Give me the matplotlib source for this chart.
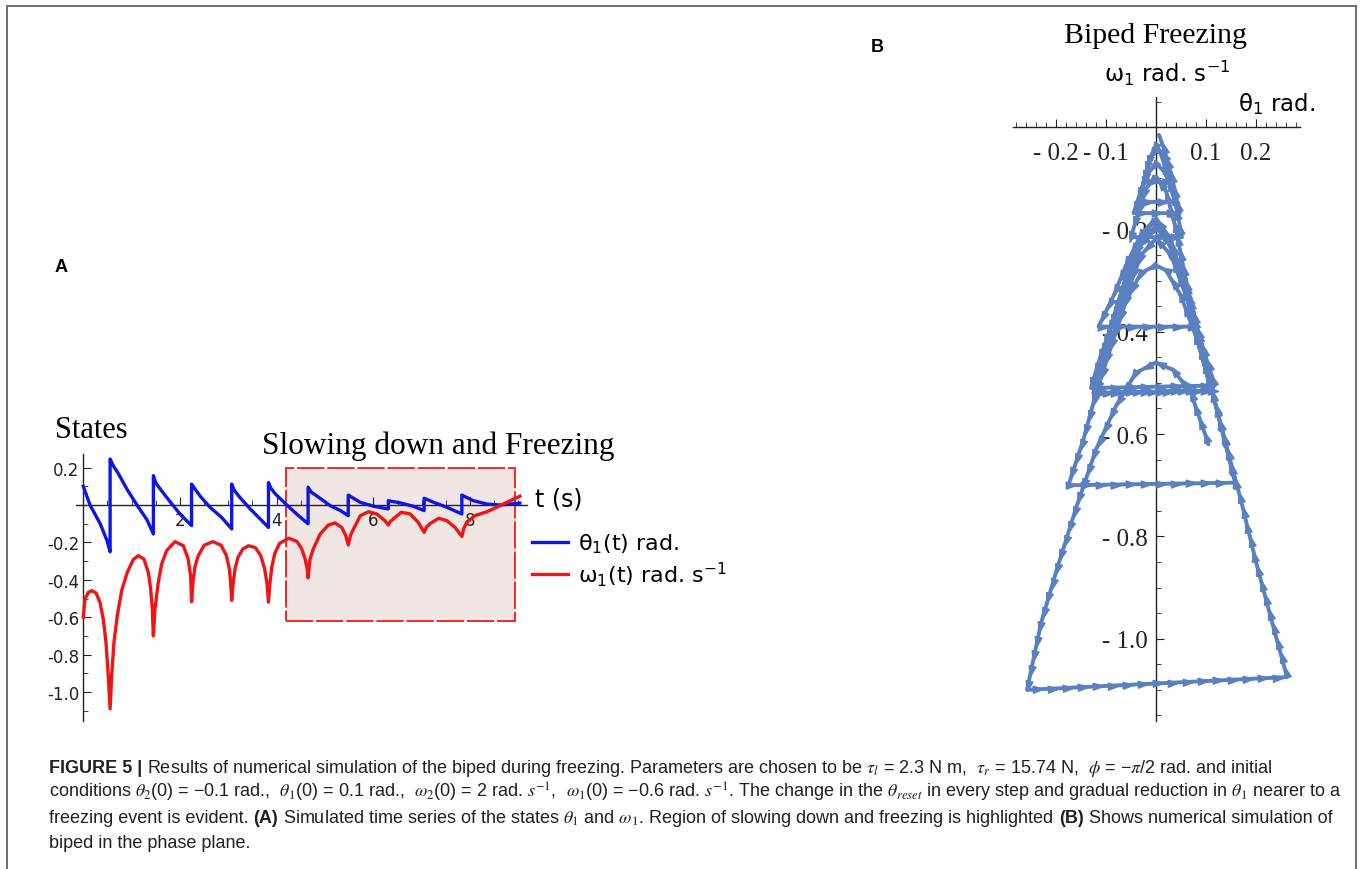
import numpy as np
import matplotlib.pyplot as plt
from matplotlib.patches import Rectangle
from matplotlib.lines import Line2D
from matplotlib.markers import MarkerStyle
from matplotlib.path import Path
from matplotlib.transforms import Affine2D
from matplotlib.font_manager import FontProperties

# ---- panel A: time series ----
theta_t = [0.0, 0.07, 0.14, 0.35, 0.49, 0.555,
           0.555, 0.62, 0.73, 0.90, 1.11, 1.32, 1.45,
           1.45, 1.50, 1.59, 1.80, 2.00, 2.24,
           2.24, 2.31, 2.41, 2.62, 2.86, 3.07,
           3.07, 3.12, 3.24, 3.45, 3.66, 3.83,
           3.83, 3.88, 3.97, 4.21, 4.45, 4.65,
           4.65, 4.71, 4.87, 5.11, 5.32, 5.48,
           5.48, 5.73, 6.01, 6.31,
           6.31, 6.56, 6.83, 7.05,
           7.05, 7.25, 7.52, 7.83,
           7.83, 8.07, 8.35, 8.62, 9.03]
theta_v = [0.10, 0.05, 0.0, -0.10, -0.19, -0.25,
           0.246, 0.21, 0.166, 0.086, 0.0, -0.08, -0.155,
           0.157, 0.118, 0.086, 0.016, -0.048, -0.11,
           0.112, 0.086, 0.05, -0.012, -0.066, -0.128,
           0.112, 0.08, 0.04, -0.02, -0.075, -0.12,
           0.12, 0.09, 0.06, 0.0, -0.057, -0.10,
           0.095, 0.07, 0.041, -0.004, -0.03, -0.057,
           0.053, 0.014, -0.007, -0.021,
           0.023, 0.011, -0.007, -0.03,
           0.036, 0.014, -0.012, -0.048,
           0.053, 0.023, 0.005, 0.0, 0.01]

omega_t = [0.0, 0.035, 0.104, 0.173, 0.263, 0.345, 0.414, 0.47, 0.517, 0.555,
           0.587, 0.635, 0.703, 0.794, 0.91, 1.034, 1.138, 1.255, 1.345, 1.394, 1.428, 1.45,
           1.483, 1.552, 1.621, 1.724, 1.897, 2.07, 2.17, 2.22, 2.24,
           2.27, 2.31, 2.38, 2.50, 2.68, 2.85, 2.96, 3.02, 3.05, 3.07,
           3.10, 3.14, 3.20, 3.30, 3.42, 3.56, 3.67, 3.75, 3.80, 3.83,
           3.86, 3.90, 3.96, 4.06, 4.25, 4.42, 4.52, 4.59, 4.63, 4.65,
           4.69, 4.757, 4.90, 5.07, 5.21, 5.345, 5.43, 5.48,
           5.53, 5.59, 5.73, 5.90, 6.07, 6.24, 6.31,
           6.35, 6.41, 6.58, 6.76, 6.93, 7.05,
           7.10, 7.17, 7.35, 7.52, 7.69, 7.83,
           7.87, 7.93, 8.10, 8.35, 8.55, 8.79, 9.03]
omega_v = [-0.60, -0.503, -0.467, -0.458, -0.47, -0.52, -0.61, -0.734, -0.913, -1.09,
           -0.913, -0.734, -0.592, -0.458, -0.36, -0.292, -0.271, -0.289, -0.36, -0.449, -0.556, -0.70,
           -0.556, -0.413, -0.316, -0.244, -0.196, -0.218, -0.289, -0.378, -0.517,
           -0.41, -0.33, -0.27, -0.215, -0.196, -0.215, -0.27, -0.34, -0.42, -0.51,
           -0.42, -0.34, -0.28, -0.235, -0.218, -0.228, -0.27, -0.34, -0.42, -0.52,
           -0.42, -0.33, -0.26, -0.205, -0.178, -0.195, -0.235, -0.29, -0.34, -0.39,
           -0.289, -0.235, -0.155, -0.107, -0.096, -0.12, -0.164, -0.214,
           -0.16, -0.128, -0.057, -0.036, -0.048, -0.084, -0.107,
           -0.088, -0.075, -0.039, -0.048, -0.093, -0.146,
           -0.118, -0.10, -0.071, -0.084, -0.12, -0.168,
           -0.125, -0.093, -0.057, -0.036, -0.012, 0.018, 0.047]

region_t = [4.19, 8.93]
region_w = [-0.62, 0.20]

# ---- panel B: phase plane trajectory (theta1, omega1) in order ----
phase_theta = [0.105, 0.07, 0.035, 0.0, -0.04, -0.08, -0.12, -0.16, -0.20, -0.23, -0.258,
               0.262, 0.23, 0.20, 0.17, 0.14, 0.11, 0.08, 0.05, 0.02, 0.0, -0.03, -0.06, -0.09, -0.12, -0.145, -0.175,
               0.158, 0.13, 0.10, 0.07, 0.04, 0.015, 0.0, -0.02, -0.05, -0.08, -0.105, -0.125,
               0.115, 0.09, 0.06, 0.03, 0.0, -0.03, -0.06, -0.09, -0.115, -0.13,
               0.118, 0.09, 0.06, 0.03, 0.0, -0.03, -0.06, -0.09, -0.125,
               0.11, 0.085, 0.06, 0.03, 0.0, -0.03, -0.06, -0.085, -0.115,
               0.078, 0.06, 0.04, 0.02, 0.0, -0.02, -0.035, -0.05,
               0.052, 0.035, 0.018, 0.0, -0.012, -0.025,
               0.024, 0.012, 0.0, -0.015, -0.035,
               0.038, 0.02, 0.0, -0.02, -0.045,
               0.048, 0.03, 0.015, 0.006]
phase_omega = [-0.62, -0.52, -0.475, -0.46, -0.48, -0.545, -0.63, -0.745, -0.87, -0.97, -1.10,
               -1.075, -0.96, -0.85, -0.73, -0.62, -0.51, -0.41, -0.33, -0.28, -0.27, -0.285, -0.34, -0.43, -0.52, -0.61, -0.70,
               -0.695, -0.585, -0.465, -0.36, -0.26, -0.205, -0.196, -0.205, -0.26, -0.355, -0.44, -0.52,
               -0.515, -0.42, -0.31, -0.23, -0.196, -0.23, -0.31, -0.39, -0.46, -0.51,
               -0.505, -0.42, -0.33, -0.25, -0.218, -0.25, -0.33, -0.42, -0.52,
               -0.515, -0.42, -0.32, -0.22, -0.178, -0.21, -0.27, -0.33, -0.39,
               -0.39, -0.30, -0.20, -0.125, -0.096, -0.12, -0.165, -0.215,
               -0.215, -0.13, -0.06, -0.036, -0.06, -0.107,
               -0.107, -0.055, -0.039, -0.07, -0.146,
               -0.146, -0.09, -0.071, -0.095, -0.168,
               -0.168, -0.09, -0.04, -0.015]

A_yticks = [-1.0, -0.8, -0.6, -0.4, -0.2, 0.2]
A_xticks = [2, 4, 6, 8]
B_xticks = [-0.2, -0.1, 0.1, 0.2]
B_yticks = [-1.0, -0.8, -0.6, -0.4, -0.2]

caption_lines = [
    [("FIGURE 5 |", "bold"),
     (r"Results of numerical simulation of the biped during freezing. Parameters are chosen to be "
      r"$\tau_l$ = 2.3 N m,  $\tau_r$ = 15.74 N,  $\phi$ = −$\pi$/2 rad. and initial", "normal")],
    [(r"conditions $\theta_2$(0) = −0.1 rad.,  $\theta_1$(0) = 0.1 rad.,  $\omega_2$(0) = 2 rad. $s^{-1}$,  "
      r"$\omega_1$(0) = −0.6 rad. $s^{-1}$. The change in the $\theta_{reset}$ in every step and gradual "
      r"reduction in $\theta_1$ nearer to a", "normal")],
    [("freezing event is evident.", "normal"), ("(A)", "bold"),
     (r"Simulated time series of the states $\theta_1$ and $\omega_1$. Region of slowing down and "
      r"freezing is highlighted", "normal"), ("(B)", "bold"),
     ("Shows numerical simulation of", "normal")],
    [("biped in the phase plane.", "normal")],
]

W, H = 1363, 870
fig = plt.figure(figsize=(W / 100, H / 100), dpi=100)


def fx(x):
    return x / W


def fy(y):
    return 1 - y / H


SERIF = 'Liberation Serif'
SANS = 'DejaVu Sans'
BLUE = '#0c16e8'
RED = '#f01414'
PBLUE = '#5a80bf'

# ---------------- panel A ----------------
axA = fig.add_axes([fx(73.6), fy(739.75), fx(557.1) - fx(73.6), (739.75 - 440.55) / H])
axA.set_xlim(-0.2, 9.8)
axA.set_ylim(-1.25, 0.35)
axA.patch.set_visible(False)
for s in ['top', 'right']:
    axA.spines[s].set_visible(False)
axA.spines['left'].set_position(('data', 0))
axA.spines['bottom'].set_position(('data', 0))
axA.spines['left'].set_bounds(-1.155, 0.273)
axA.spines['bottom'].set_bounds(-0.16, 9.18)
for s in ['left', 'bottom']:
    axA.spines[s].set_linewidth(1.0)
    axA.spines[s].set_color('#222222')

axA.set_xticks(A_xticks)
axA.set_xticklabels([str(v) for v in A_xticks])
axA.set_xticks(np.arange(0.5, 9.01, 0.5), minor=True)
axA.set_yticks(A_yticks)
axA.set_yticklabels(['%.1f' % v for v in A_yticks])
axA.set_yticks(np.arange(-1.1, 0.25, 0.1), minor=True)
axA.tick_params(axis='both', which='major', direction='in', length=6, width=0.8,
                labelsize=12, colors='#222222')
axA.tick_params(axis='both', which='minor', direction='in', length=3.5, width=0.7, colors='#444444')
axA.tick_params(axis='x', which='major', pad=4)
axA.tick_params(axis='y', which='major', pad=3)
for lab in axA.get_xticklabels() + axA.get_yticklabels():
    lab.set_family(SANS)

axA.add_patch(Rectangle((region_t[0], region_w[0]), region_t[1] - region_t[0],
                        region_w[1] - region_w[0], facecolor='#efe6e3', edgecolor='#ee2a2a',
                        linewidth=1.4, linestyle=(0, (14, 1.5)), zorder=0.5))
l1, = axA.plot(theta_t, theta_v, color=BLUE, lw=2.4, solid_joinstyle='round', zorder=3)
l2, = axA.plot(omega_t, omega_v, color=RED, lw=2.4, solid_joinstyle='round', zorder=3)

fig.text(fx(535), fy(500), 't (s)', family=SANS, fontsize=17, va='center', ha='left')
fig.text(fx(55), fy(431), 'States', family=SERIF, fontsize=22, va='center', ha='left')
fig.text(fx(262), fy(446), 'Slowing down and Freezing', family=SERIF, fontsize=22.5,
         va='center', ha='left')

leg_font = FontProperties(family=SANS, size=16, math_fontfamily='dejavusans')
fig.legend([l1, l2], [r'$\mathregular{\theta_1}$(t) rad.', r'$\mathregular{\omega_1}$(t) rad. s$^{-1}$'],
           loc='center left', bbox_to_anchor=(fx(512), fy(561)), frameon=False,
           prop=leg_font, handlelength=1.6, handletextpad=0.45, labelspacing=0.2)

# ---------------- panel B ----------------
axB = fig.add_axes([fx(1006), fy(742), fx(1331) - fx(1006), (742 - 77) / H])
axB.set_xlim(-0.3, 0.35)
axB.set_ylim(-1.2, 0.1)
axB.patch.set_visible(False)
for s in ['top', 'right']:
    axB.spines[s].set_visible(False)
axB.spines['left'].set_position(('data', 0))
axB.spines['bottom'].set_position(('data', 0))
axB.spines['left'].set_bounds(-1.16, 0.059)
axB.spines['bottom'].set_bounds(-0.286, 0.288)
for s in ['left', 'bottom']:
    axB.spines[s].set_linewidth(1.0)
    axB.spines[s].set_color('#222222')

axB.set_xticks(B_xticks)
axB.set_xticklabels([('- %.1f' % -v) if v < 0 else '%.1f' % v for v in B_xticks])
axB.set_xticks(np.arange(-0.28, 0.281, 0.02), minor=True)
axB.set_yticks(B_yticks)
axB.set_yticklabels(['- %.1f' % -v for v in B_yticks])
axB.set_yticks(np.arange(-1.15, 0.051, 0.05), minor=True)
axB.tick_params(axis='both', which='major', direction='in', length=6, width=0.8,
                labelsize=18, colors='#222222')
axB.tick_params(axis='both', which='minor', direction='in', length=3.5, width=0.7, colors='#444444')
axB.tick_params(axis='x', which='major', pad=11)
axB.tick_params(axis='y', which='major', pad=6)
for lab in axB.get_xticklabels() + axB.get_yticklabels():
    lab.set_family(SERIF)

axB.plot(phase_theta, phase_omega, color=PBLUE, lw=2.8, solid_joinstyle='round',
         solid_capstyle='round', zorder=3)

# arrowheads spaced along the trajectory
head = Path([(0.9, 0), (-0.9, 0.6), (-0.9, -0.6), (0.9, 0)],
            [Path.MOVETO, Path.LINETO, Path.LINETO, Path.CLOSEPOLY])
pts = axB.transData.transform(np.column_stack([phase_theta, phase_omega]))
inv = axB.transData.inverted()
step = 15.0
acc = step / 2
for (x0, y0), (x1, y1) in zip(pts[:-1], pts[1:]):
    seg = np.hypot(x1 - x0, y1 - y0)
    if seg == 0:
        continue
    ang = np.degrees(np.arctan2(y1 - y0, x1 - x0))
    d = acc
    while d < seg:
        px_ = x0 + (x1 - x0) * d / seg
        py_ = y0 + (y1 - y0) * d / seg
        dx, dy = inv.transform((px_, py_))
        m = MarkerStyle(head, transform=Affine2D().rotate_deg(ang))
        axB.plot([dx], [dy], marker=m, ms=7.5, color=PBLUE, linestyle='none', zorder=4)
        d += step
    acc = d - seg

fig.text(fx(1156), fy(36), 'Biped Freezing', family=SERIF, fontsize=21.5, ha='center', va='center')
fig.text(fx(1167), fy(73), r'$\mathregular{\omega_1}$ rad. s$^{-1}$', family=SANS, fontsize=16.5,
         ha='center', va='center', math_fontfamily='dejavusans')
fig.text(fx(1238), fy(104), r'$\mathregular{\theta_1}$ rad.', family=SANS, fontsize=16.5,
         ha='left', va='center', math_fontfamily='dejavusans')

# panel letters
fig.text(fx(61), fy(268), 'A', family='Liberation Sans', fontweight='bold', fontsize=13,
         ha='center', va='center')
fig.text(fx(877), fy(47), 'B', family='Liberation Sans', fontweight='bold', fontsize=13,
         ha='center', va='center')

# ---------------- caption ----------------
renderer = fig.canvas.get_renderer()
cap_size = 13
space_px = 0.278 * cap_size * 100 / 72
for row, pieces in enumerate(caption_lines):
    x = 49
    y = 773 + row * 25
    for txt, wt in pieces:
        t = fig.text(fx(x), fy(y), txt, family='Liberation Sans', fontweight=wt,
                     fontsize=cap_size, ha='left', va='baseline', math_fontfamily='stix',
                     color='#231f20')
        bb = t.get_window_extent(renderer)
        x += bb.width + space_px

# frame
frame_col = '#6d6d6d'
fig.add_artist(Line2D([fx(7), fx(1356)], [fy(7), fy(7)], transform=fig.transFigure,
                      color=frame_col, lw=1.4))
fig.add_artist(Line2D([fx(7), fx(7)], [fy(7), fy(870)], transform=fig.transFigure,
                      color=frame_col, lw=1.4))
fig.add_artist(Line2D([fx(1356), fx(1356)], [fy(7), fy(870)], transform=fig.transFigure,
                      color=frame_col, lw=1.4))

fig.savefig('out.png', dpi=100)
